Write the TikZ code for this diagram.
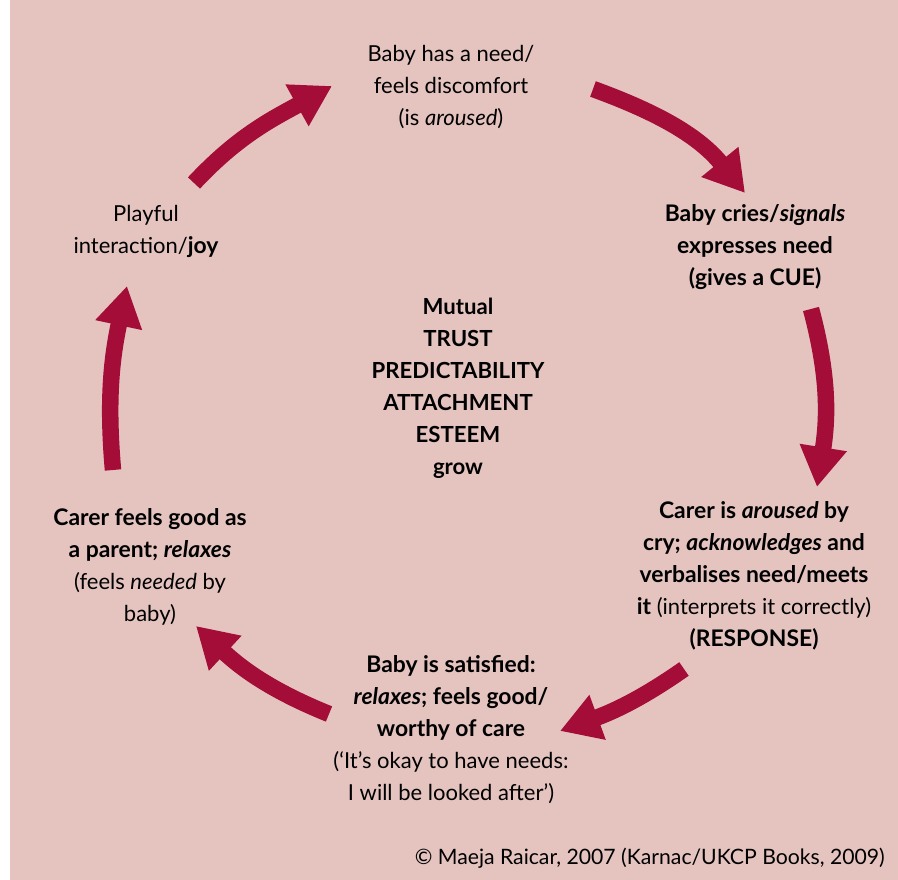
\documentclass[tikz,border=0pt]{standalone}
\usepackage{fontspec}
\setmainfont{Lato}[BoldFeatures={Scale=1.04},BoldItalicFeatures={Scale=1.04}]
\usetikzlibrary{arrows.meta}
\definecolor{bgpink}{HTML}{E5C4C0}
\definecolor{wine}{HTML}{A30D37}
\begin{document}
\begin{tikzpicture}[x=1pt,y=1pt,
  lbl/.style={align=center,inner sep=0pt,font=\fontsize{22}{32}\selectfont,text=black},
  cyc/.style={draw=wine,line width=16.5pt,-{Triangle[length=40pt,width=45pt]}}]
\useasboundingbox (0,0) rectangle (898,880);
\fill[white] (0,0) rectangle (898,880);
\fill[bgpink] (10,0) rectangle (898,880);

% text blocks
\node[lbl] (need) at (451,793) {Baby has a need/\\feels discomfort\\(is \textit{aroused})};
\node[lbl,font=\fontsize{22}{32}\selectfont\bfseries] (cue) at (755,633) {Baby cries/\textit{signals}\\expresses need\\(gives a CUE)};
\node[lbl] (resp) at (754,304) {\textbf{Carer is \textit{aroused} by}\\\textbf{cry; \textit{acknowledges} and}\\\textbf{verbalises need/meets}\\\textbf{it} (interprets it correctly)\\\textbf{(RESPONSE)}};
\node[lbl] (sat) at (451,150) {\textbf{Baby is satisfied:}\\\textbf{\textit{relaxes}; feels good/}\\\textbf{worthy of care}\\(‘It’s okay to have needs:\\I will be looked after’)};
\node[lbl] (carer) at (150,313) {\textbf{Carer feels good as}\\\textbf{a parent; \textit{relaxes}}\\(feels \textit{needed} by\\baby)};
\node[lbl] (play) at (146,649) {Playful\\interaction/\textbf{joy}};
\node[lbl,font=\fontsize{21.3}{32}\selectfont\bfseries] (mid) at (458,492) {Mutual\\TRUST\\PREDICTABILITY\\ATTACHMENT\\ESTEEM\\grow};
\node[anchor=east,inner sep=0pt,font=\fontsize{21.2}{24}\selectfont] (copy) at (885,22) {© Maeja Raicar, 2007 (Karnac/UKCP Books, 2009)};

% arrow ends
\coordinate (a1) at (593,791); \coordinate (a2) at (745,687);
\coordinate (b1) at (811,571); \coordinate (b2) at (817,393);
\coordinate (c1) at (684,211); \coordinate (c2) at (560,149);
\coordinate (d1) at (329,166); \coordinate (d2) at (196,254);
\coordinate (e1) at (113,410); \coordinate (e2) at (127,594);
\coordinate (f1) at (194,697); \coordinate (f2) at (332,794);

\draw[cyc] (a1) to[out=-20,in=129] (a2);
\draw[cyc] (b1) to[out=-75,in=81] (b2);
\draw[cyc] (c1) to[out=215,in=20] (c2);
\draw[cyc] (d1) to[out=158,in=317] (d2);
\draw[cyc] (e1) to[out=95,in=258] (e2);
\draw[cyc] (f1) to[out=47,in=209] (f2);
\end{tikzpicture}
\end{document}
